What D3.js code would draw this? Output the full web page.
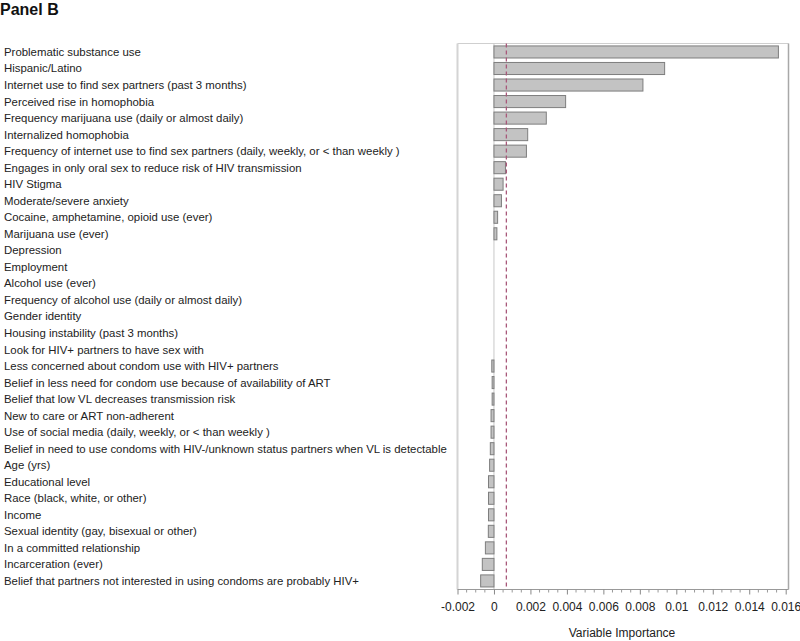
<!DOCTYPE html>
<html><head><meta charset="utf-8">
<script src="https://cdn.jsdelivr.net/npm/d3@7"></script>
<style>body{margin:0;background:#fff}svg{display:block}</style>
</head><body>
<script>
const categories = [
  "Problematic substance use",
  "Hispanic/Latino",
  "Internet use to find sex partners (past 3 months)",
  "Perceived rise in homophobia",
  "Frequency marijuana use (daily or almost daily)",
  "Internalized homophobia",
  "Frequency of internet use to find sex partners (daily, weekly, or < than weekly )",
  "Engages in only oral sex to reduce risk of HIV transmission",
  "HIV Stigma",
  "Moderate/severe anxiety",
  "Cocaine, amphetamine, opioid use (ever)",
  "Marijuana use (ever)",
  "Depression",
  "Employment",
  "Alcohol use (ever)",
  "Frequency of alcohol use (daily or almost daily)",
  "Gender identity",
  "Housing instability (past 3 months)",
  "Look for HIV+ partners to have sex with",
  "Less concerned about condom use with HIV+ partners",
  "Belief in less need for condom use because of availability of ART",
  "Belief that low VL decreases transmission risk",
  "New to care or ART non-adherent",
  "Use of social media (daily, weekly, or < than weekly )",
  "Belief in need to use condoms with HIV-/unknown status partners when VL is detectable",
  "Age (yrs)",
  "Educational level",
  "Race (black, white, or other)",
  "Income",
  "Sexual identity (gay, bisexual or other)",
  "In a committed relationship",
  "Incarceration (ever)",
  "Belief that partners not interested in using condoms are probably HIV+"
];
const importance = [
  0.0156, 0.00936, 0.00817, 0.00393, 0.00287, 0.00185, 0.00178, 0.00063,
  0.00050, 0.00041, 0.00020, 0.00016,
  0, 0, 0, 0, 0, 0, 0,
  -0.00012, -0.00010, -0.00010, -0.00016, -0.00016, -0.00020, -0.00024,
  -0.00030, -0.00030, -0.00030, -0.00031, -0.00047, -0.00064, -0.00073
];
const threshold = 0.00068;
const tickValues = [-0.002, 0, 0.002, 0.004, 0.006, 0.008, 0.01, 0.012, 0.014, 0.016];
const tickLabels = ["-0.002", "0", "0.002", "0.004", "0.006", "0.008", "0.01", "0.012", "0.014", "0.016"];
const title = "Panel B";
const xTitle = "Variable Importance";

const W = 800, H = 641;
const svg = d3.select("body").append("svg").attr("width", W).attr("height", H);
const font = "Liberation Sans, Arial, sans-serif";

const plotTop = 43.5, plotBottom = 589.5, plotLeft = 457.5, plotRight = 788.5;
const x = d3.scaleLinear().domain([-0.002, 0.016]).range([457.5, 785.7]);
const y = d3.scaleBand().domain(categories).range([43.7, 589.2]).paddingInner(0.27).paddingOuter(0.135);

svg.append("text").attr("x", 0).attr("y", 15).attr("font-family", font)
  .attr("font-weight", "bold").attr("font-size", 16).attr("fill", "#111").text(title);

// frame
svg.append("line").attr("x1", plotLeft).attr("x2", plotRight).attr("y1", plotTop).attr("y2", plotTop)
  .attr("stroke", "#cfcfcf").attr("stroke-width", 1);
svg.append("line").attr("x1", plotLeft).attr("x2", plotLeft).attr("y1", plotTop).attr("y2", plotBottom)
  .attr("stroke", "#d4d4d4").attr("stroke-width", 2);
svg.append("line").attr("x1", plotRight).attr("x2", plotRight).attr("y1", plotTop).attr("y2", plotBottom)
  .attr("stroke", "#a8a8a8").attr("stroke-width", 1.5);

// zero line
svg.append("line").attr("x1", x(0)).attr("x2", x(0)).attr("y1", plotTop).attr("y2", plotBottom)
  .attr("stroke", "#c8c8c8").attr("stroke-width", 1);

// labels
svg.append("g").selectAll("text").data(categories).join("text")
  .attr("x", 4).attr("y", d => y(d) + y.bandwidth() / 2).attr("dy", "0.35em")
  .attr("font-family", font).attr("font-size", 11.4).attr("fill", "#222").text(d => d);

// bars
svg.append("g").selectAll("rect").data(categories).join("rect")
  .attr("x", (d, i) => x(Math.min(0, importance[i])))
  .attr("y", d => y(d))
  .attr("width", (d, i) => Math.abs(x(importance[i]) - x(0)))
  .attr("height", y.bandwidth())
  .attr("fill", "#c3c3c3").attr("stroke", "#7e7e7e").attr("stroke-width", 1)
  .attr("display", (d, i) => importance[i] === 0 ? "none" : null);

// threshold dashed line
svg.append("line").attr("x1", x(threshold)).attr("x2", x(threshold))
  .attr("y1", plotTop).attr("y2", plotBottom)
  .attr("stroke", "#a8587a").attr("stroke-width", 1.3).attr("stroke-dasharray", "4,3");

// axis
const axis = d3.axisBottom(x).tickValues(tickValues).tickSize(5)
  .tickFormat((d, i) => tickLabels[i]);
const ag = svg.append("g").attr("transform", `translate(0,${plotBottom})`).call(axis);
ag.select(".domain").attr("stroke", "#999").attr("d", `M${plotLeft},0H${plotRight}`);
ag.selectAll(".tick line").attr("stroke", "#888");
ag.selectAll(".tick text").attr("font-family", font).attr("font-size", 12).attr("fill", "#222").attr("dy", "1.1em");
const minor = d3.range(-0.002, 0.0161, 0.0005).filter(v => Math.abs(Math.round(v / 0.002) * 0.002 - v) > 1e-6);
svg.append("g").selectAll("line").data(minor).join("line")
  .attr("x1", d => x(d)).attr("x2", d => x(d)).attr("y1", plotBottom).attr("y2", plotBottom + 3)
  .attr("stroke", "#999");

svg.append("text").attr("x", 622).attr("y", 637).attr("text-anchor", "middle")
  .attr("font-family", font).attr("font-size", 12).attr("fill", "#222").text(xTitle);
</script>
</body></html>
